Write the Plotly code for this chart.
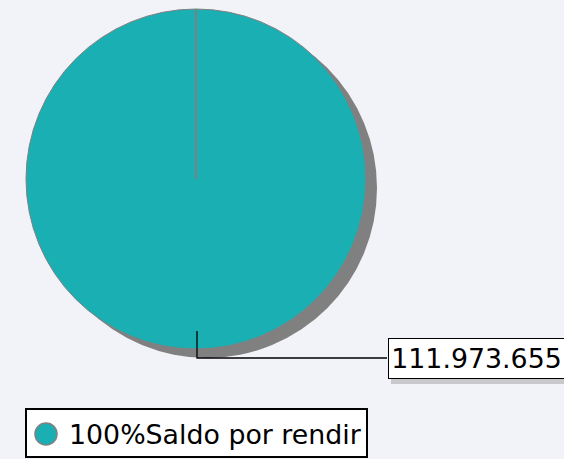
import plotly.graph_objects as go

labels = ["Saldo por rendir"]
values = [111973655]
percents = [100]
colors = ["#1aafb2"]

W, H = 564, 459
BG = "#f2f3f8"

def px(x):
    return x / W

def py(y):
    return 1 - y / H

cx, cy, r = 196, 179, 170
sdx, sdy = 11, 9

fig = go.Figure()
# shadow pie
fig.add_trace(go.Pie(
    values=values, labels=labels, marker=dict(colors=["#808080"], line=dict(width=0)),
    textinfo="none", hoverinfo="skip", showlegend=False, sort=False,
    domain=dict(x=[px(cx + sdx - r), px(cx + sdx + r)], y=[py(cy + sdy + r), py(cy + sdy - r)]),
))
# main pie
fig.add_trace(go.Pie(
    values=values, labels=labels, marker=dict(colors=colors, line=dict(color="#808080", width=1)),
    textinfo="none", showlegend=False, sort=False, direction="clockwise", rotation=0,
    domain=dict(x=[px(cx - r), px(cx + r)], y=[py(cy + r), py(cy - r)]),
))

shapes = []
# slice boundary line
shapes.append(dict(type="line", xref="paper", yref="paper", x0=px(cx), y0=py(cy), x1=px(cx), y1=py(cy - r),
                   line=dict(color="#808080", width=2), layer="above"))
# leader line
shapes.append(dict(type="path", xref="paper", yref="paper",
                   path=f"M {px(197)} {py(331)} L {px(197)} {py(358)} L {px(387)} {py(358)}",
                   line=dict(color="black", width=1.3), layer="above"))
# label shadow
shapes.append(dict(type="rect", xref="paper", yref="paper", x0=px(391), y0=py(384), x1=px(567), y1=py(343),
                   fillcolor="#c8c8cd", line=dict(width=0), layer="above"))
# legend box
shapes.append(dict(type="rect", xref="paper", yref="paper", x0=px(26), y0=py(457), x1=px(367), y1=py(409),
                   fillcolor="white", line=dict(color="black", width=2), layer="above"))
# legend marker
shapes.append(dict(type="circle", xref="paper", yref="paper", x0=px(35), y0=py(445), x1=px(57), y1=py(423),
                   fillcolor=colors[0], line=dict(color="#808080", width=1.5), layer="above"))

value_text = f"{values[0]:,}".replace(",", ".")
annotations = [
    dict(xref="paper", yref="paper", x=px(476), y=py(358), text=value_text, showarrow=False,
         font=dict(family="DejaVu Sans", size=26.8, color="black"), bgcolor="white",
         bordercolor="black", borderwidth=1, borderpad=0, width=175, height=39,
         xanchor="center", yanchor="middle"),
    dict(xref="paper", yref="paper", x=px(67), y=py(434), text=f"{percents[0]}%{labels[0]}", showarrow=False,
         font=dict(family="DejaVu Sans", size=26.8, color="black"), xanchor="left", yanchor="middle"),
]

fig.update_layout(
    width=W, height=H, margin=dict(l=0, r=0, t=0, b=0),
    paper_bgcolor=BG, plot_bgcolor=BG, showlegend=False,
    shapes=shapes, annotations=annotations,
)

fig.write_html("out.html", config={"displayModeBar": False},
               post_script="document.body.style.margin='0';document.body.style.overflow='hidden';")
